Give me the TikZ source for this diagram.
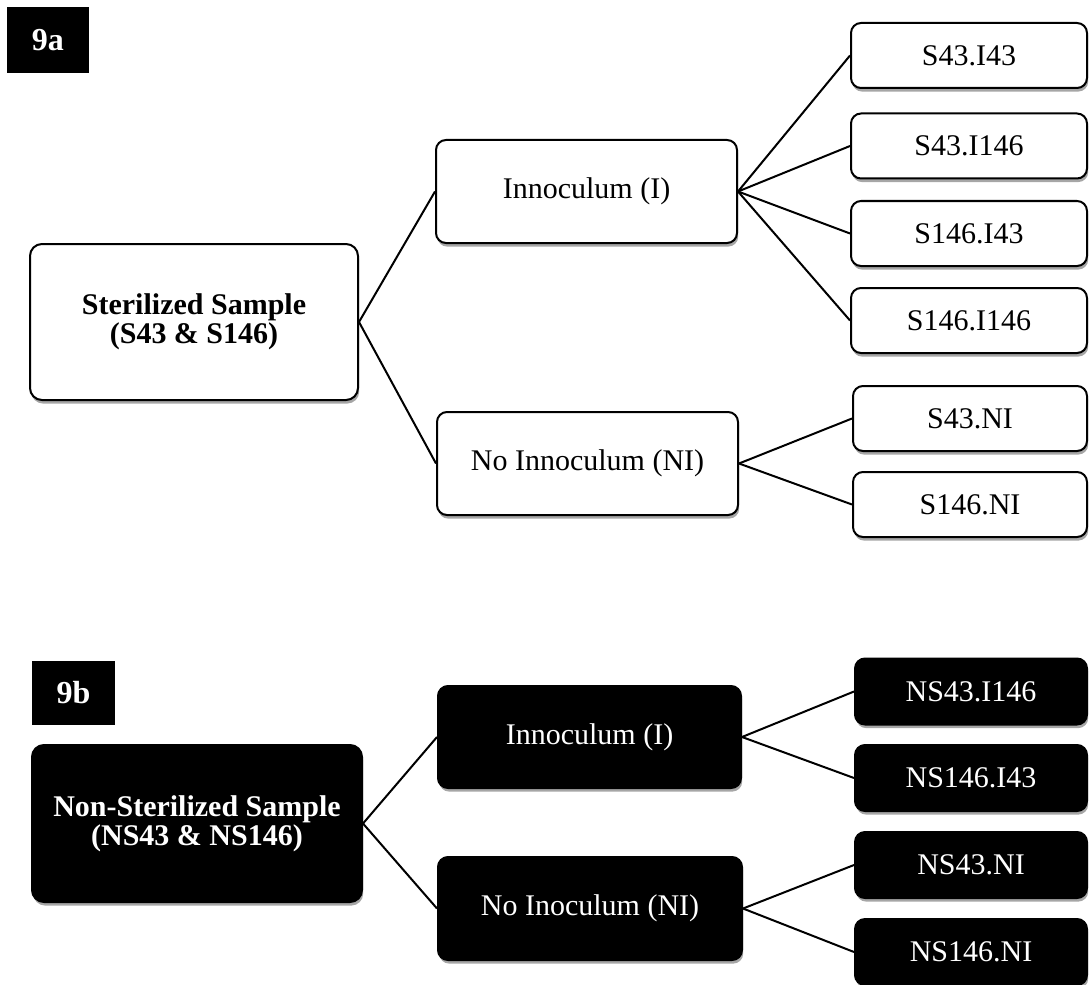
\documentclass[tikz,border=0pt]{standalone}
\usepackage{fontspec}
\setmainfont{Liberation Serif}
\usetikzlibrary{shadows}
\begin{document}
\begin{tikzpicture}[x=0.5pt,y=-0.5pt]
\tikzset{
  base/.style={rounded corners=5pt, line width=1pt, align=center, inner sep=0pt,
    font=\fontsize{15}{14.5}\selectfont},
  shad/.style={drop shadow={shadow xshift=0.6pt, shadow yshift=-1.8pt, fill=black, opacity=0.35}},
  wbox/.style={base, shad, draw=black, fill=white},
  bbox/.style={base, shad, draw=black, fill=black, text=white},
  lab/.style={fill=black, text=white, inner sep=0pt, font=\bfseries\fontsize{16}{16}\selectfont},
  link/.style={line width=1pt, draw=black},
  sz/.style 2 args={minimum width=#1*0.5pt, minimum height=#2*0.5pt}
}
\useasboundingbox (0,0) rectangle (1090,984);
\fill[white] (0,0) rectangle (1090,984);

% ---------- 9a ----------
\node[lab, sz={82}{66}] (lab9a) at (48,40) {9a};
\node[wbox, sz={328}{156}, rounded corners=6pt, font=\bfseries\fontsize{15}{14.5}\selectfont] (ster) at (194,322) {Sterilized Sample\\(S43 \& S146)};
\node[wbox, sz={301}{103}] (inoc) at (586.5,191.5) {Innoculum (I)};
\node[wbox, sz={301}{103}] (noinoc) at (587.5,463.5) {No Innoculum (NI)};
\node[wbox, sz={236}{65}] (r1) at (969,55.5) {S43.I43};
\node[wbox, sz={236}{65}] (r2) at (969,146) {S43.I146};
\node[wbox, sz={236}{65}] (r3) at (969,233.5) {S146.I43};
\node[wbox, sz={236}{65}] (r4) at (969,320.5) {S146.I146};
\node[wbox, sz={234}{65}] (r5) at (970,418.5) {S43.NI};
\node[wbox, sz={234}{65}] (r6) at (970,504.5) {S146.NI};

\draw[link] (ster.east) -- (inoc.west);
\draw[link] (ster.east) -- (noinoc.west);
\foreach \r in {r1,r2,r3,r4} \draw[link] (inoc.east) -- (\r.west);
\foreach \r in {r5,r6} \draw[link] (noinoc.east) -- (\r.west);

% ---------- 9b ----------
\node[lab, sz={83}{64}] (lab9b) at (73.5,693) {9b};
\node[bbox, sz={330}{157}, rounded corners=6pt, font=\bfseries\fontsize{15}{14.5}\selectfont] (nster) at (197,823.5) {Non-Sterilized Sample\\(NS43 \& NS146)};
\node[bbox, sz={303}{102}] (binoc) at (589.5,737) {Innoculum (I)};
\node[bbox, sz={304}{103}] (bnoinoc) at (590,908.5) {No Inoculum (NI)};
\node[bbox, sz={232}{66}] (b1) at (971,691.5) {NS43.I146};
\node[bbox, sz={232}{66}] (b2) at (971,778) {NS146.I43};
\node[bbox, sz={232}{66}] (b3) at (971,865) {NS43.NI};
\node[bbox, sz={232}{66}] (b4) at (971,952) {NS146.NI};

\draw[link] (nster.east) -- (binoc.west);
\draw[link] (nster.east) -- (bnoinoc.west);
\foreach \r in {b1,b2} \draw[link] (binoc.east) -- (\r.west);
\foreach \r in {b3,b4} \draw[link] (bnoinoc.east) -- (\r.west);
\end{tikzpicture}
\end{document}
